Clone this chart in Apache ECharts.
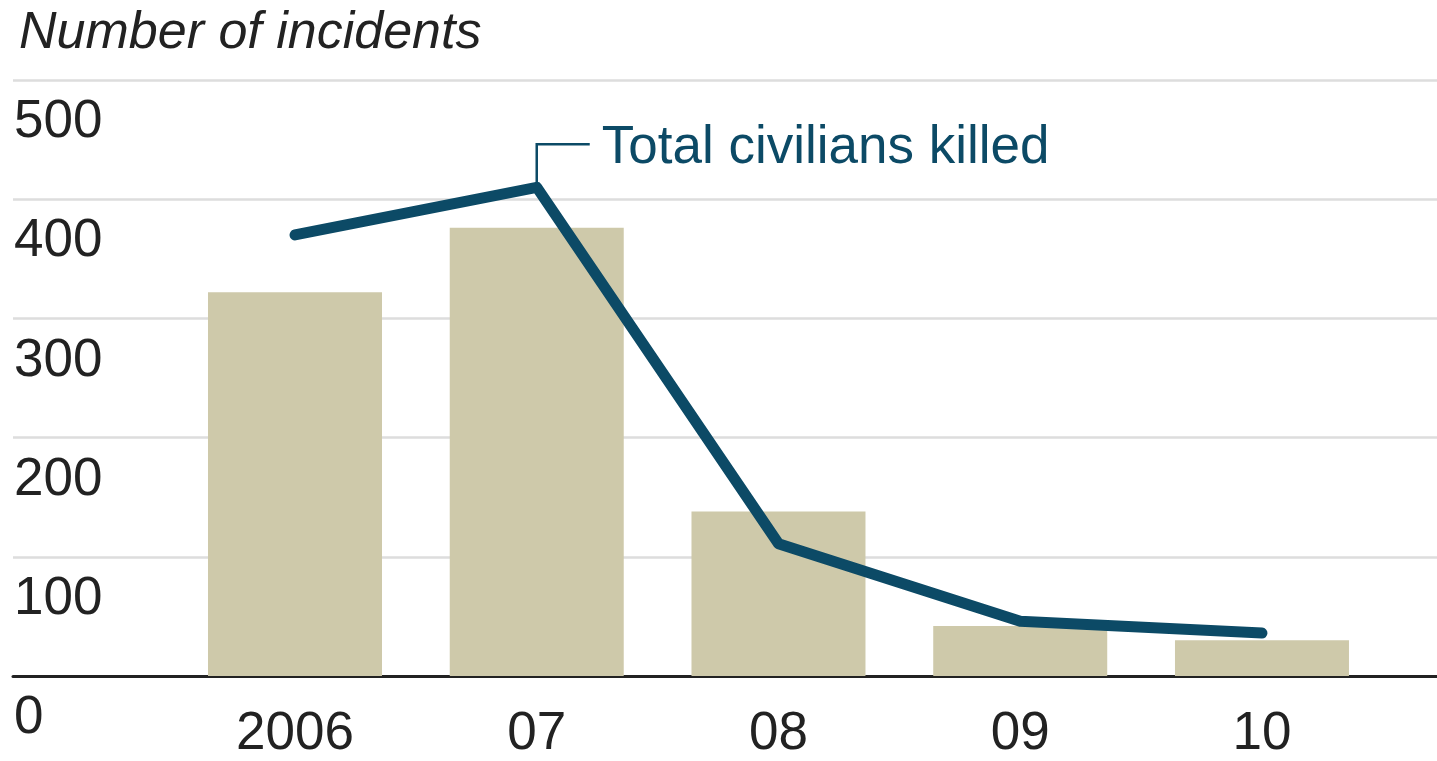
<!DOCTYPE html>
<html>
<head>
<meta charset="utf-8">
<title>Number of incidents</title>
<script src="https://cdn.jsdelivr.net/npm/echarts@6/dist/echarts.min.js"></script>
<style>
  html, body { margin: 0; padding: 0; background: #fff; }
  #chart { width: 1437px; height: 761px; }
</style>
</head>
<body>
<div id="chart"></div>
<script>
// Year labels along the bottom
var categories = ['2006', '07', '08', '09', '10'];
// Incidents per year (bars)
var incidents = [322, 376, 138, 42, 30];
// Total civilians killed per year (line)
var civiliansKilled = [370, 410, 111, 46, 36];
// Value axis ticks
var yTicks = [0, 100, 200, 300, 400, 500];

var FONT = '"Liberation Sans", Arial, Helvetica, sans-serif';
var INK = '#222222';
var LINE_COLOR = '#0c4a66';
var BAR_COLOR = '#cec9aa';

var positions = categories.map(function (_, i) { return i; });
var barData = incidents.map(function (v, i) { return [i, v]; });
var lineData = civiliansKilled.map(function (v, i) { return [i, v]; });

var chart = echarts.init(document.getElementById('chart'), null, { renderer: 'canvas' });

var option = {
  backgroundColor: '#ffffff',
  animation: false,
  title: {
    text: 'Number of incidents',
    left: 14,
    top: 3,
    textStyle: {
      fontFamily: FONT,
      fontStyle: 'italic',
      fontWeight: 'normal',
      fontSize: 52,
      color: INK
    }
  },
  grid: { left: 13, right: 0, top: 80, bottom: 83, containLabel: false },
  xAxis: {
    type: 'value',
    min: -1.1665,
    max: 4.724,
    axisLine: { show: true, onZero: true, lineStyle: { color: INK, width: 3 } },
    axisTick: { show: false },
    splitLine: { show: false },
    axisLabel: {
      customValues: positions,
      formatter: function (v) { return categories[Math.round(v)]; },
      fontFamily: FONT,
      fontSize: 53,
      color: INK,
      margin: 32
    }
  },
  yAxis: {
    type: 'value',
    min: yTicks[0],
    max: yTicks[yTicks.length - 1],
    interval: yTicks[1] - yTicks[0],
    axisLine: { show: false },
    axisTick: { show: false },
    splitLine: { show: true, lineStyle: { color: '#dddddd', width: 2.5 } },
    axisLabel: {
      align: 'left',
      verticalAlign: 'top',
      margin: -1,
      padding: [16, 0, 0, 0],
      fontFamily: FONT,
      fontSize: 53,
      color: INK
    }
  },
  series: [
    {
      type: 'bar',
      data: barData,
      barWidth: 174,
      itemStyle: { color: BAR_COLOR },
      z: 2
    },
    {
      type: 'line',
      data: lineData,
      showSymbol: false,
      symbol: 'none',
      lineStyle: { color: LINE_COLOR, width: 11, cap: 'round', join: 'round' },
      z: 3
    }
  ]
};

chart.setOption(option);

// Callout for the line, anchored to its 2007 peak
var peakIndex = 1;
var peak = chart.convertToPixel({ seriesIndex: 1 }, lineData[peakIndex]);
var elbowY = peak[1] - 43;
var leaderEndX = peak[0] + 53;
chart.setOption({
  graphic: [
    {
      type: 'polyline',
      shape: { points: [[peak[0], peak[1] - 4], [peak[0], elbowY], [leaderEndX, elbowY]] },
      style: { stroke: LINE_COLOR, lineWidth: 2.5, fill: null },
      z: 10
    },
    {
      type: 'text',
      x: leaderEndX + 12,
      y: elbowY + 4,
      style: {
        text: 'Total civilians killed',
        font: 'normal 53px ' + FONT,
        fill: LINE_COLOR,
        textAlign: 'left',
        textVerticalAlign: 'middle'
      },
      z: 10
    }
  ]
});
</script>
</body>
</html>
